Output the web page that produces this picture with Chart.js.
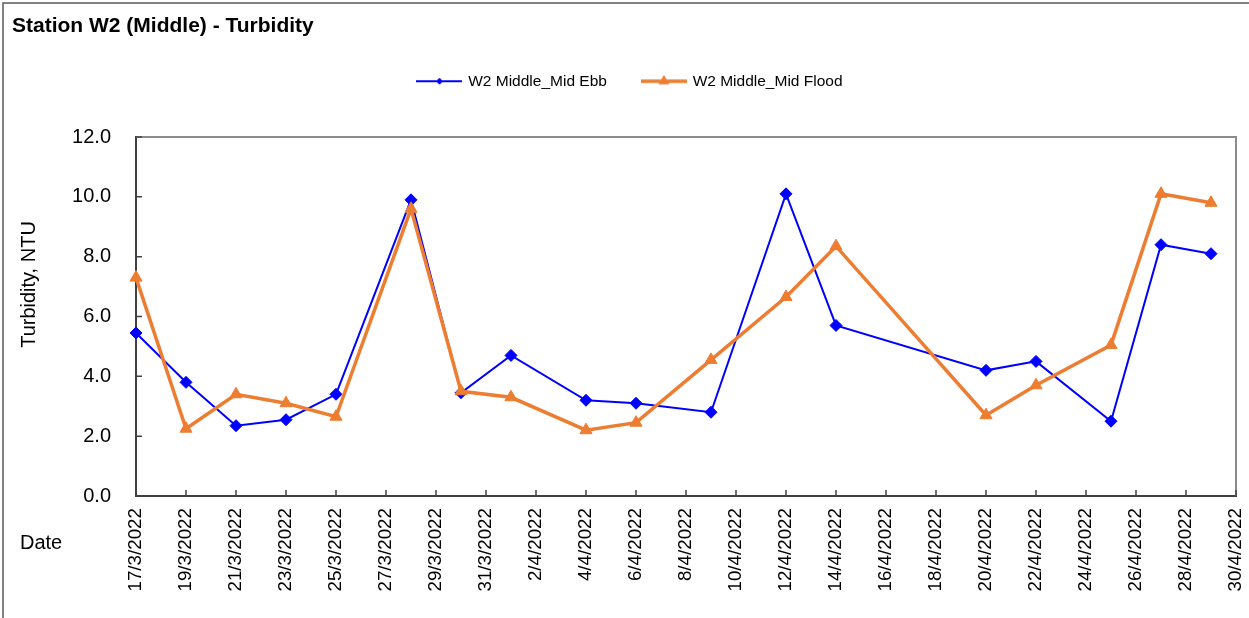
<!DOCTYPE html>
<html lang="en">
<head>
    <meta charset="UTF-8">
    <title>Station W2 (Middle) - Turbidity</title>
    <script src="https://cdn.jsdelivr.net/npm/chart.js"></script>
    <style>
        body {
            margin: 0;
            padding: 0;
            background-color: #fff;
            overflow: hidden;
        }

        .chart-container {
            position: relative;
            width: 1249px;
            height: 618px;
        }
    </style>
</head>
<body>
    <div class="chart-container">
        <canvas id="turbidityChart" width="1249" height="618"></canvas>
    </div>

    <script>
        // Sampling dates and readings (NTU)
        const sampleDates = ['17/3/2022', '19/3/2022', '21/3/2022', '23/3/2022', '25/3/2022', '28/3/2022',
            '30/3/2022', '1/4/2022', '4/4/2022', '6/4/2022', '9/4/2022', '12/4/2022', '14/4/2022',
            '20/4/2022', '22/4/2022', '25/4/2022', '27/4/2022', '29/4/2022'];
        const ebbValues = [5.45, 3.8, 2.35, 2.55, 3.4, 9.9, 3.45, 4.7, 3.2, 3.1, 2.8, 10.1, 5.7, 4.2, 4.5, 2.5, 8.4, 8.1];
        const floodValues = [7.3, 2.25, 3.4, 3.1, 2.65, 9.6, 3.5, 3.3, 2.2, 2.45, 4.55, 6.65, 8.35, 2.7, 3.7, 5.05, 10.1, 9.8];

        // Tick labels on the date axis, one every 2 days
        const dateTicks = ['17/3/2022', '19/3/2022', '21/3/2022', '23/3/2022', '25/3/2022', '27/3/2022',
            '29/3/2022', '31/3/2022', '2/4/2022', '4/4/2022', '6/4/2022', '8/4/2022', '10/4/2022',
            '12/4/2022', '14/4/2022', '16/4/2022', '18/4/2022', '20/4/2022', '22/4/2022', '24/4/2022',
            '26/4/2022', '28/4/2022', '30/4/2022'];
        const yTicks = [0, 2, 4, 6, 8, 10, 12];

        const ebbColor = '#0000FF';
        const floodColor = '#ED7D31';
        const fontFamily = '"Liberation Sans", Arial, sans-serif';

        // days since first tick date
        function dayIndex(s) {
            const [d, m, y] = s.split('/').map(Number);
            const [d0, m0, y0] = dateTicks[0].split('/').map(Number);
            return Math.round((Date.UTC(y, m - 1, d) - Date.UTC(y0, m0 - 1, d0)) / 86400000);
        }

        const ebbData = sampleDates.map((d, i) => ({ x: dayIndex(d), y: ebbValues[i] }));
        const floodData = sampleDates.map((d, i) => ({ x: dayIndex(d), y: floodValues[i] }));

        // Legend symbol: short line with the marker in the middle
        function legendSymbol(color, lineWidth, style, radius) {
            const c = document.createElement('canvas');
            c.width = 46;
            c.height = 16;
            const g = c.getContext('2d');
            g.strokeStyle = color;
            g.fillStyle = color;
            g.lineWidth = lineWidth;
            g.beginPath();
            g.moveTo(0, 8);
            g.lineTo(46, 8);
            g.stroke();
            g.lineWidth = 1;
            Chart.helpers.drawPoint(g, { pointStyle: style, radius: radius, borderWidth: 1, rotation: 0 }, 23, 8);
            return c;
        }

        // Frame, inward tick marks and free axis titles
        const framePlugin = {
            id: 'frame',
            beforeDatasetsDraw(chart) {
                const { ctx, chartArea: a, scales } = chart;
                ctx.save();
                ctx.strokeStyle = '#8c8c8c';
                ctx.lineWidth = 2;
                ctx.beginPath();
                ctx.moveTo(a.left, a.top);
                ctx.lineTo(a.right, a.top);
                ctx.lineTo(a.right, a.bottom);
                ctx.stroke();

                ctx.strokeStyle = '#404040';
                ctx.lineWidth = 1.5;
                ctx.beginPath();
                scales.x.ticks.forEach(t => {
                    const px = scales.x.getPixelForValue(t.value);
                    ctx.moveTo(px, a.bottom);
                    ctx.lineTo(px, a.bottom - 6);
                });
                scales.y.ticks.forEach(t => {
                    const py = scales.y.getPixelForValue(t.value);
                    ctx.moveTo(a.left, py);
                    ctx.lineTo(a.left + 6, py);
                });
                ctx.stroke();
                ctx.restore();
            },
            afterDraw(chart) {
                const { ctx, chartArea: a } = chart;
                ctx.save();
                // outer chart border
                ctx.strokeStyle = '#595959';
                ctx.lineWidth = 1.5;
                ctx.beginPath();
                ctx.moveTo(3, chart.height);
                ctx.lineTo(3, 3);
                ctx.lineTo(chart.width, 3);
                ctx.stroke();

                ctx.fillStyle = '#000';
                ctx.font = '20px ' + fontFamily;
                ctx.textBaseline = 'middle';
                ctx.textAlign = 'left';
                ctx.fillText('Date', 20, a.bottom + 47);

                ctx.translate(29, (a.top + a.bottom) / 2 - 32);
                ctx.rotate(-Math.PI / 2);
                ctx.textAlign = 'center';
                ctx.fillText('Turbidity, NTU', 0, 0);
                ctx.restore();
            }
        };

        const ctx = document.getElementById('turbidityChart').getContext('2d');

        const turbidityChart = new Chart(ctx, {
            type: 'line',
            data: {
                datasets: [{
                    label: 'W2 Middle_Mid Ebb',
                    data: ebbData,
                    borderColor: ebbColor,
                    backgroundColor: ebbColor,
                    borderWidth: 2,
                    pointStyle: 'rectRot',
                    pointRadius: 6,
                    pointBorderWidth: 1,
                    tension: 0,
                    clip: false,
                    order: 1
                }, {
                    label: 'W2 Middle_Mid Flood',
                    data: floodData,
                    borderColor: floodColor,
                    backgroundColor: floodColor,
                    borderWidth: 3.5,
                    pointStyle: 'triangle',
                    pointRadius: 7,
                    pointBorderWidth: 1,
                    tension: 0,
                    clip: false,
                    order: 0
                }]
            },
            options: {
                responsive: false,
                animation: false,
                devicePixelRatio: 1,
                layout: { padding: { left: 12, right: 0, top: 0, bottom: 0 } },
                plugins: {
                    tooltip: { enabled: false },
                    title: {
                        display: true,
                        text: 'Station W2 (Middle) - Turbidity',
                        align: 'start',
                        color: '#000',
                        font: { family: fontFamily, size: 21, weight: 'bold', lineHeight: 1 },
                        padding: { top: 15.5, bottom: 1 }
                    },
                    legend: {
                        display: true,
                        position: 'top',
                        labels: {
                            color: '#000',
                            font: { family: fontFamily, size: 15.5 },
                            usePointStyle: true,
                            pointStyleWidth: 42,
                            padding: 36,
                            generateLabels(chart) {
                                return chart.data.datasets.map((ds, i) => ({
                                    text: ds.label,
                                    datasetIndex: i,
                                    hidden: false,
                                    lineWidth: 0,
                                    fontColor: '#000',
                                    pointStyle: i === 0
                                        ? legendSymbol(ebbColor, 2, 'rectRot', 3)
                                        : legendSymbol(floodColor, 3.5, 'triangle', 5.5)
                                }));
                            }
                        }
                    }
                },
                scales: {
                    x: {
                        type: 'linear',
                        min: 0,
                        max: dateTicks.length * 2 - 2,
                        afterFit(scale) {
                            scale.height = 122;
                            scale.paddingLeft = 0;
                            scale.paddingRight = 0;
                        },
                        afterBuildTicks(scale) {
                            scale.ticks = dateTicks.map((t, i) => ({ value: i * 2 }));
                        },
                        grid: { display: false, drawTicks: false },
                        border: { display: true, color: '#404040', width: 2 },
                        ticks: {
                            autoSkip: false,
                            maxRotation: 90,
                            minRotation: 90,
                            padding: 12,
                            color: '#000',
                            font: { family: fontFamily, size: 18.8 },
                            callback: (v) => dateTicks[Math.round(v / 2)]
                        }
                    },
                    // empty band between legend and plot
                    xTop: {
                        type: 'linear',
                        position: 'top',
                        display: true,
                        min: 0,
                        max: 1,
                        afterFit(scale) {
                            scale.height = 38;
                            scale.paddingLeft = 0;
                            scale.paddingRight = 0;
                        },
                        grid: { display: false, drawTicks: false },
                        border: { display: false },
                        ticks: { display: false }
                    },
                    y: {
                        position: 'left',
                        min: yTicks[0],
                        max: yTicks[yTicks.length - 1],
                        afterFit(scale) { scale.width = 124; },
                        afterBuildTicks(scale) {
                            scale.ticks = yTicks.map(v => ({ value: v }));
                        },
                        grid: { display: false, drawTicks: false },
                        border: { display: true, color: '#404040', width: 2 },
                        ticks: {
                            padding: 25,
                            color: '#000',
                            font: { family: fontFamily, size: 20 },
                            callback: (v) => v.toFixed(1)
                        }
                    },
                    yRight: {
                        position: 'right',
                        display: true,
                        min: 0,
                        max: 1,
                        afterFit(scale) { scale.width = 13; },
                        grid: { display: false, drawTicks: false },
                        border: { display: false },
                        ticks: { display: false }
                    }
                }
            },
            plugins: [framePlugin]
        });
    </script>
</body>
</html>
